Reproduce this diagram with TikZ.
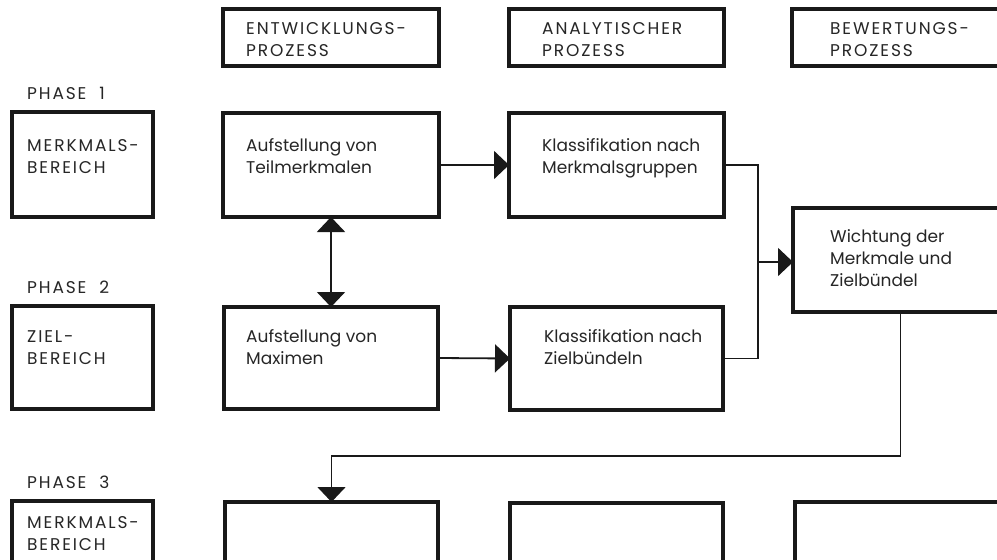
\documentclass[tikz,border=0pt]{standalone}
\usepackage{fontspec}
\setmainfont{Poppins}
\newfontfamily\capsfont{Poppins}[LetterSpace=11]
\usetikzlibrary{arrows.meta}
\begin{document}
\begin{tikzpicture}[x=1pt,y=-1pt,
  box/.style={draw=black!90, line width=3.1pt, rectangle, inner sep=0pt, outer sep=0pt, anchor=north west},
  txt/.style={anchor=base west, inner sep=0pt, align=left, font=\fontsize{17}{22}\selectfont, text=black!85},
  captxt/.style={txt, font=\capsfont\fontsize{17}{22}\selectfont},
  conn/.style={draw=black!90, line width=1.8pt},
  arr/.style={conn, -{Triangle[length=15pt,width=28pt]}},
  dbl/.style={conn, {Triangle[length=15pt,width=28pt]}-{Triangle[length=15pt,width=28pt]}},
]
\useasboundingbox (0,0) rectangle (997,560);
\fill[white] (0,0) rectangle (997,560);
\clip (0,0) rectangle (997,560);
% headers
\node[box, minimum width=216pt, minimum height=57pt] (h1) at (223,9) {};
\node[box, minimum width=215pt, minimum height=57pt] (h2) at (509,9) {};
\node[box, minimum width=216pt, minimum height=57pt] (h3) at (792,9) {};
\node[captxt] (h1t) at (246,56) {ENTWICKLUNGS-\\PROZESS};
\node[captxt] (h2t) at (542,56) {ANALYTISCHER\\PROZESS};
\node[captxt] (h3t) at (830,56) {BEWERTUNGS-\\PROZESS};
% phase labels
\node[captxt] (p1) at (27,99) {PHASE\ \ 1};
\node[captxt] (p2) at (27,293) {PHASE\ \ 2};
\node[captxt] (p3) at (27,488) {PHASE\ \ 3};
% left boxes
\node[box, minimum width=141pt, minimum height=105pt] (l1) at (12,112) {};
\node[box, minimum width=141pt, minimum height=103pt] (l2) at (12,306) {};
\node[box, minimum width=141pt, minimum height=100pt] (l3) at (12,501) {};
\node[captxt] (l1t) at (27,173) {MERKMALS-\\BEREICH};
\node[captxt] (l2t) at (27,364) {ZIEL-\\BEREICH};
\node[captxt] (l3t) at (27,550) {MERKMALS-\\BEREICH};
% column 1
\node[box, minimum width=216pt, minimum height=104pt] (a1) at (223,113) {};
\node[box, minimum width=214pt, minimum height=102pt] (a2) at (224,307) {};
\node[box, minimum width=213pt, minimum height=100pt] (b1) at (225,502) {};
\node[txt] (a1t) at (246,173) {Aufstellung von\\Teilmerkmalen};
\node[txt] (a2t) at (246,364) {Aufstellung von\\Maximen};
% column 2
\node[box, minimum width=215pt, minimum height=104pt] (k1) at (509,113) {};
\node[box, minimum width=213pt, minimum height=103pt] (k2) at (510,307) {};
\node[box, minimum width=213pt, minimum height=100pt] (b2) at (510,503) {};
\node[txt] (k1t) at (542,173) {Klassifikation nach\\Merkmalsgruppen};
\node[txt] (k2t) at (544,364) {Klassifikation nach\\Zielbündeln};
% column 3
\node[box, minimum width=215pt, minimum height=104pt] (w) at (793,208) {};
\node[box, minimum width=213pt, minimum height=100pt] (b3) at (795,502) {};
\node[txt] (wt) at (830,286) {Wichtung der\\Merkmale und\\Zielbündel};
% connectors
\coordinate (j) at (758,262);
\draw[arr] (a1.east) -- (k1.west);
\draw[arr] (a2.east) -- (k2.west);
\draw[dbl] (a1.south) -- (a2.north);
\draw[conn] (k1.east) -| (j);
\draw[conn] (k2.east) -| (j);
\draw[arr] (j) -- (w.west |- j);
\draw[arr] (w.south) |- ([yshift=46pt]b1.north) -- (b1.north);
\end{tikzpicture}
\end{document}
